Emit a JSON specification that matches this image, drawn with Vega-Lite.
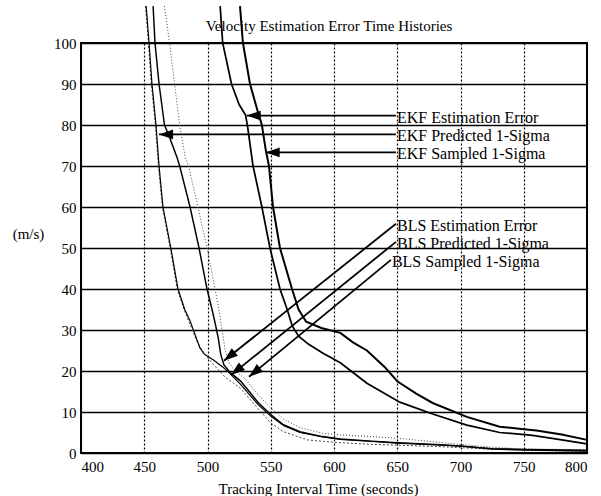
{
  "$schema": "https://vega.github.io/schema/vega-lite/v6.json",
  "width": 506,
  "height": 410,
  "autosize": {"type": "none"},
  "padding": {"left": 81, "top": 43, "right": 14, "bottom": 43},
  "background": "white",
  "config": {
    "font": "Liberation Serif",
    "view": {"stroke": "black", "strokeWidth": 2},
    "axis": {
      "labelFont": "Liberation Serif", "labelFontSize": 15, "labelColor": "black",
      "titleFont": "Liberation Serif", "titleFontSize": 15, "titleFontWeight": "normal", "titleColor": "black",
      "ticks": false, "domain": false, "gridColor": "black", "gridOpacity": 1
    }
  },
  "title": {"text": "Velocity Estimation Error Time Histories", "font": "Liberation Serif", "fontSize": 15, "fontWeight": "normal", "color": "black", "dx": -5, "dy": 43, "offset": 11, "frame": "group"},
  "datasets": {
    "curves": [
      {"series": "EKF Predicted 1-Sigma", "t": 451.5, "v": 109},
      {"series": "EKF Predicted 1-Sigma", "t": 453.8, "v": 100},
      {"series": "EKF Predicted 1-Sigma", "t": 456.1, "v": 90},
      {"series": "EKF Predicted 1-Sigma", "t": 459.3, "v": 80},
      {"series": "EKF Predicted 1-Sigma", "t": 461.7, "v": 70},
      {"series": "EKF Predicted 1-Sigma", "t": 464.8, "v": 60},
      {"series": "EKF Predicted 1-Sigma", "t": 471, "v": 50},
      {"series": "EKF Predicted 1-Sigma", "t": 476.7, "v": 40},
      {"series": "EKF Predicted 1-Sigma", "t": 482, "v": 35},
      {"series": "EKF Predicted 1-Sigma", "t": 486, "v": 32.4},
      {"series": "EKF Predicted 1-Sigma", "t": 494, "v": 25.6},
      {"series": "EKF Predicted 1-Sigma", "t": 497, "v": 24.3},
      {"series": "EKF Predicted 1-Sigma", "t": 500, "v": 23.6},
      {"series": "EKF Predicted 1-Sigma", "t": 505, "v": 22.6},
      {"series": "EKF Predicted 1-Sigma", "t": 512, "v": 21},
      {"series": "EKF Predicted 1-Sigma", "t": 518, "v": 19.3},
      {"series": "EKF Predicted 1-Sigma", "t": 526, "v": 16.8},
      {"series": "EKF Predicted 1-Sigma", "t": 533, "v": 14.3},
      {"series": "EKF Predicted 1-Sigma", "t": 540, "v": 11.8},
      {"series": "EKF Predicted 1-Sigma", "t": 550, "v": 9},
      {"series": "EKF Predicted 1-Sigma", "t": 560, "v": 6.7},
      {"series": "EKF Predicted 1-Sigma", "t": 573, "v": 5},
      {"series": "EKF Predicted 1-Sigma", "t": 591, "v": 3.9},
      {"series": "EKF Predicted 1-Sigma", "t": 605, "v": 3.3},
      {"series": "EKF Predicted 1-Sigma", "t": 630, "v": 2.8},
      {"series": "EKF Predicted 1-Sigma", "t": 650, "v": 2.4},
      {"series": "EKF Predicted 1-Sigma", "t": 680, "v": 2},
      {"series": "EKF Predicted 1-Sigma", "t": 700, "v": 1.7},
      {"series": "EKF Predicted 1-Sigma", "t": 725, "v": 1.1},
      {"series": "EKF Predicted 1-Sigma", "t": 750, "v": 0.9},
      {"series": "EKF Predicted 1-Sigma", "t": 800, "v": 0.7},

      {"series": "BLS Estimation Error", "t": 457, "v": 109},
      {"series": "BLS Estimation Error", "t": 458.5, "v": 100},
      {"series": "BLS Estimation Error", "t": 461.7, "v": 90},
      {"series": "BLS Estimation Error", "t": 466, "v": 80},
      {"series": "BLS Estimation Error", "t": 470, "v": 77},
      {"series": "BLS Estimation Error", "t": 476, "v": 72},
      {"series": "BLS Estimation Error", "t": 478, "v": 70},
      {"series": "BLS Estimation Error", "t": 486.2, "v": 60},
      {"series": "BLS Estimation Error", "t": 493.3, "v": 50},
      {"series": "BLS Estimation Error", "t": 499.6, "v": 40},
      {"series": "BLS Estimation Error", "t": 503.6, "v": 35},
      {"series": "BLS Estimation Error", "t": 506.5, "v": 31},
      {"series": "BLS Estimation Error", "t": 508.5, "v": 28},
      {"series": "BLS Estimation Error", "t": 510.5, "v": 24},
      {"series": "BLS Estimation Error", "t": 513, "v": 21.5},
      {"series": "BLS Estimation Error", "t": 518, "v": 19.6},
      {"series": "BLS Estimation Error", "t": 526, "v": 17.6},
      {"series": "BLS Estimation Error", "t": 533, "v": 15},
      {"series": "BLS Estimation Error", "t": 540, "v": 12.3},
      {"series": "BLS Estimation Error", "t": 550, "v": 9.4},
      {"series": "BLS Estimation Error", "t": 560, "v": 6.9},
      {"series": "BLS Estimation Error", "t": 573, "v": 5.2},
      {"series": "BLS Estimation Error", "t": 591, "v": 4},
      {"series": "BLS Estimation Error", "t": 605, "v": 3.4},
      {"series": "BLS Estimation Error", "t": 630, "v": 2.9},
      {"series": "BLS Estimation Error", "t": 650, "v": 2.5},
      {"series": "BLS Estimation Error", "t": 680, "v": 2.1},
      {"series": "BLS Estimation Error", "t": 700, "v": 1.7},
      {"series": "BLS Estimation Error", "t": 725, "v": 1},
      {"series": "BLS Estimation Error", "t": 750, "v": 0.7},
      {"series": "BLS Estimation Error", "t": 800, "v": 0.5},

      {"series": "BLS Predicted 1-Sigma", "t": 466, "v": 109},
      {"series": "BLS Predicted 1-Sigma", "t": 470, "v": 100},
      {"series": "BLS Predicted 1-Sigma", "t": 474, "v": 90},
      {"series": "BLS Predicted 1-Sigma", "t": 478, "v": 80},
      {"series": "BLS Predicted 1-Sigma", "t": 482.5, "v": 72},
      {"series": "BLS Predicted 1-Sigma", "t": 485, "v": 70},
      {"series": "BLS Predicted 1-Sigma", "t": 492.5, "v": 60},
      {"series": "BLS Predicted 1-Sigma", "t": 499.6, "v": 50},
      {"series": "BLS Predicted 1-Sigma", "t": 506, "v": 40},
      {"series": "BLS Predicted 1-Sigma", "t": 509, "v": 35},
      {"series": "BLS Predicted 1-Sigma", "t": 511.5, "v": 30},
      {"series": "BLS Predicted 1-Sigma", "t": 514, "v": 25},
      {"series": "BLS Predicted 1-Sigma", "t": 517, "v": 22},
      {"series": "BLS Predicted 1-Sigma", "t": 522, "v": 20},
      {"series": "BLS Predicted 1-Sigma", "t": 530, "v": 18},
      {"series": "BLS Predicted 1-Sigma", "t": 540, "v": 14.2},
      {"series": "BLS Predicted 1-Sigma", "t": 550, "v": 11},
      {"series": "BLS Predicted 1-Sigma", "t": 560, "v": 8.3},
      {"series": "BLS Predicted 1-Sigma", "t": 573, "v": 6.2},
      {"series": "BLS Predicted 1-Sigma", "t": 591, "v": 4.8},
      {"series": "BLS Predicted 1-Sigma", "t": 605, "v": 4.4},
      {"series": "BLS Predicted 1-Sigma", "t": 630, "v": 4},
      {"series": "BLS Predicted 1-Sigma", "t": 650, "v": 3.6},
      {"series": "BLS Predicted 1-Sigma", "t": 680, "v": 2.7},
      {"series": "BLS Predicted 1-Sigma", "t": 700, "v": 2.1},
      {"series": "BLS Predicted 1-Sigma", "t": 725, "v": 1.4},
      {"series": "BLS Predicted 1-Sigma", "t": 750, "v": 1},
      {"series": "BLS Predicted 1-Sigma", "t": 800, "v": 0.8},

      {"series": "BLS Sampled 1-Sigma", "t": 451, "v": 109},
      {"series": "BLS Sampled 1-Sigma", "t": 453.3, "v": 100},
      {"series": "BLS Sampled 1-Sigma", "t": 455.6, "v": 90},
      {"series": "BLS Sampled 1-Sigma", "t": 458.8, "v": 80},
      {"series": "BLS Sampled 1-Sigma", "t": 461.2, "v": 70},
      {"series": "BLS Sampled 1-Sigma", "t": 464.3, "v": 60},
      {"series": "BLS Sampled 1-Sigma", "t": 470.5, "v": 50},
      {"series": "BLS Sampled 1-Sigma", "t": 476, "v": 40},
      {"series": "BLS Sampled 1-Sigma", "t": 481.5, "v": 35},
      {"series": "BLS Sampled 1-Sigma", "t": 486, "v": 31.5},
      {"series": "BLS Sampled 1-Sigma", "t": 492, "v": 27},
      {"series": "BLS Sampled 1-Sigma", "t": 498, "v": 24},
      {"series": "BLS Sampled 1-Sigma", "t": 505, "v": 21.5},
      {"series": "BLS Sampled 1-Sigma", "t": 514, "v": 18.5},
      {"series": "BLS Sampled 1-Sigma", "t": 526, "v": 15.8},
      {"series": "BLS Sampled 1-Sigma", "t": 540, "v": 10.8},
      {"series": "BLS Sampled 1-Sigma", "t": 550, "v": 7.3},
      {"series": "BLS Sampled 1-Sigma", "t": 560, "v": 5.2},
      {"series": "BLS Sampled 1-Sigma", "t": 579, "v": 3.2},
      {"series": "BLS Sampled 1-Sigma", "t": 600, "v": 2.6},
      {"series": "BLS Sampled 1-Sigma", "t": 630, "v": 2.1},
      {"series": "BLS Sampled 1-Sigma", "t": 650, "v": 1.9},
      {"series": "BLS Sampled 1-Sigma", "t": 680, "v": 1.6},
      {"series": "BLS Sampled 1-Sigma", "t": 700, "v": 1.3},
      {"series": "BLS Sampled 1-Sigma", "t": 725, "v": 0.9},
      {"series": "BLS Sampled 1-Sigma", "t": 800, "v": 0.4},

      {"series": "EKF Estimation Error", "t": 510, "v": 109},
      {"series": "EKF Estimation Error", "t": 512, "v": 100},
      {"series": "EKF Estimation Error", "t": 519, "v": 90},
      {"series": "EKF Estimation Error", "t": 525, "v": 85},
      {"series": "EKF Estimation Error", "t": 530, "v": 82.5},
      {"series": "EKF Estimation Error", "t": 531.5, "v": 80},
      {"series": "EKF Estimation Error", "t": 536, "v": 70},
      {"series": "EKF Estimation Error", "t": 543, "v": 60},
      {"series": "EKF Estimation Error", "t": 549.4, "v": 50},
      {"series": "EKF Estimation Error", "t": 557.3, "v": 40},
      {"series": "EKF Estimation Error", "t": 563, "v": 35},
      {"series": "EKF Estimation Error", "t": 567, "v": 31},
      {"series": "EKF Estimation Error", "t": 572, "v": 28.5},
      {"series": "EKF Estimation Error", "t": 580, "v": 26.5},
      {"series": "EKF Estimation Error", "t": 591, "v": 24.4},
      {"series": "EKF Estimation Error", "t": 605, "v": 22},
      {"series": "EKF Estimation Error", "t": 626, "v": 17},
      {"series": "EKF Estimation Error", "t": 652, "v": 12.4},
      {"series": "EKF Estimation Error", "t": 678, "v": 9.5},
      {"series": "EKF Estimation Error", "t": 705, "v": 6.8},
      {"series": "EKF Estimation Error", "t": 731, "v": 5},
      {"series": "EKF Estimation Error", "t": 757, "v": 4.3},
      {"series": "EKF Estimation Error", "t": 780, "v": 3.2},
      {"series": "EKF Estimation Error", "t": 800, "v": 2.2},

      {"series": "EKF Sampled 1-Sigma", "t": 525.7, "v": 109},
      {"series": "EKF Sampled 1-Sigma", "t": 528, "v": 100},
      {"series": "EKF Sampled 1-Sigma", "t": 533.6, "v": 90},
      {"series": "EKF Sampled 1-Sigma", "t": 540, "v": 83},
      {"series": "EKF Sampled 1-Sigma", "t": 543, "v": 80},
      {"series": "EKF Sampled 1-Sigma", "t": 546, "v": 74},
      {"series": "EKF Sampled 1-Sigma", "t": 548.6, "v": 70},
      {"series": "EKF Sampled 1-Sigma", "t": 551.8, "v": 60},
      {"series": "EKF Sampled 1-Sigma", "t": 557.3, "v": 50},
      {"series": "EKF Sampled 1-Sigma", "t": 566.8, "v": 40},
      {"series": "EKF Sampled 1-Sigma", "t": 572, "v": 35},
      {"series": "EKF Sampled 1-Sigma", "t": 578, "v": 32},
      {"series": "EKF Sampled 1-Sigma", "t": 590, "v": 30.5},
      {"series": "EKF Sampled 1-Sigma", "t": 605, "v": 29.3},
      {"series": "EKF Sampled 1-Sigma", "t": 615, "v": 27},
      {"series": "EKF Sampled 1-Sigma", "t": 626, "v": 25},
      {"series": "EKF Sampled 1-Sigma", "t": 640, "v": 21},
      {"series": "EKF Sampled 1-Sigma", "t": 650, "v": 17.5},
      {"series": "EKF Sampled 1-Sigma", "t": 665, "v": 14.5},
      {"series": "EKF Sampled 1-Sigma", "t": 678, "v": 12.2},
      {"series": "EKF Sampled 1-Sigma", "t": 705, "v": 8.8},
      {"series": "EKF Sampled 1-Sigma", "t": 731, "v": 6.4},
      {"series": "EKF Sampled 1-Sigma", "t": 750, "v": 5.8},
      {"series": "EKF Sampled 1-Sigma", "t": 760, "v": 5.5},
      {"series": "EKF Sampled 1-Sigma", "t": 780, "v": 4.5},
      {"series": "EKF Sampled 1-Sigma", "t": 800, "v": 3.2}
    ],
    "arrows": [
      {"label": "EKF Estimation Error", "group": "EKF", "x0": 649, "y0": 82.3, "x1": 531, "y1": 82.3},
      {"label": "EKF Predicted 1-Sigma", "group": "EKF", "x0": 649, "y0": 77.7, "x1": 461.7, "y1": 77.7},
      {"label": "EKF Sampled 1-Sigma", "group": "EKF", "x0": 649, "y0": 73.3, "x1": 546, "y1": 73.3},
      {"label": "BLS Estimation Error", "group": "BLS", "x0": 649, "y0": 55.9, "x1": 513, "y1": 22.5},
      {"label": "BLS Predicted 1-Sigma", "group": "BLS", "x0": 649, "y0": 51.5, "x1": 518.6, "y1": 19.0},
      {"label": "BLS Sampled 1-Sigma", "group": "BLS", "x0": 645, "y0": 47.1, "x1": 532.8, "y1": 18.6}
    ]
  },
  "layer": [
    {
      "data": {"name": "curves"},
      "transform": [{"filter": {"field": "series", "oneOf": ["BLS Predicted 1-Sigma", "BLS Sampled 1-Sigma"]}}],
      "mark": {"type": "line", "strokeWidth": 1, "color": "#444"},
      "encoding": {
        "x": {"field": "t", "type": "quantitative", "title": "Tracking Interval Time (seconds)",
          "scale": {"domain": [400, 800], "nice": false, "zero": false},
          "axis": {"values": [400, 450, 500, 550, 600, 650, 700, 750, 800], "labelPadding": 6, "grid": true, "gridDash": [2, 2], "gridWidth": 1.2,
            "titleX": 237, "titleY": 40, "titleAlign": "center", "titleBaseline": "alphabetic"}},
        "y": {"field": "v", "type": "quantitative", "title": "(m/s)",
          "scale": {"domain": [0, 100], "nice": false},
          "axis": {"values": [0, 10, 20, 30, 40, 50, 60, 70, 80, 90, 100], "labelPadding": 5, "grid": true, "gridWidth": 1.3,
            "titleAngle": 0, "titleX": -53, "titleY": 190, "titleAlign": "center", "titleBaseline": "middle"}},
        "strokeDash": {"field": "series", "type": "nominal", "legend": null,
          "scale": {"domain": ["BLS Predicted 1-Sigma", "BLS Sampled 1-Sigma"], "range": [[1, 2], [2, 2]]}},
        "order": {"field": "t", "type": "quantitative"}
      }
    },
    {
      "data": {"name": "curves"},
      "transform": [{"filter": {"field": "series", "oneOf": ["EKF Predicted 1-Sigma", "BLS Estimation Error", "EKF Estimation Error", "EKF Sampled 1-Sigma"]}}],
      "mark": {"type": "line", "color": "black"},
      "encoding": {
        "x": {"field": "t", "type": "quantitative", "title": "Tracking Interval Time (seconds)"},
        "y": {"field": "v", "type": "quantitative", "title": "(m/s)"},
        "strokeWidth": {"field": "series", "type": "nominal", "legend": null,
          "scale": {"domain": ["EKF Predicted 1-Sigma", "BLS Estimation Error", "EKF Estimation Error", "EKF Sampled 1-Sigma"], "range": [1.2, 2, 1.2, 1.1]}},
        "order": {"field": "t", "type": "quantitative"}
      }
    },
    {
      "data": {"name": "arrows"},
      "mark": {"type": "rule", "color": "black", "strokeWidth": 1.8},
      "encoding": {
        "x": {"field": "x0", "type": "quantitative", "title": "Tracking Interval Time (seconds)"},
        "x2": {"field": "x1"},
        "y": {"field": "y0", "type": "quantitative", "title": "(m/s)"},
        "y2": {"field": "y1"}
      }
    },
    {
      "data": {"name": "arrows"},
      "transform": [{"filter": {"field": "group", "equal": "EKF"}}],
      "mark": {"type": "point", "shape": "M0,0L2,-0.7L2,0.7Z", "size": 196, "filled": true, "color": "black", "opacity": 1, "strokeWidth": 0},
      "encoding": {
        "x": {"field": "x1", "type": "quantitative", "title": "Tracking Interval Time (seconds)"},
        "y": {"field": "y1", "type": "quantitative", "title": "(m/s)"}
      }
    },
    {
      "data": {"name": "arrows"},
      "transform": [{"filter": {"field": "group", "equal": "BLS"}}],
      "mark": {"type": "point", "shape": "M0,0L2,-0.7L2,0.7Z", "size": 196, "filled": true, "color": "black", "opacity": 1, "strokeWidth": 0, "angle": 321},
      "encoding": {
        "x": {"field": "x1", "type": "quantitative", "title": "Tracking Interval Time (seconds)"},
        "y": {"field": "y1", "type": "quantitative", "title": "(m/s)"}
      }
    },
    {
      "data": {"name": "arrows"},
      "mark": {"type": "text", "align": "left", "baseline": "middle", "dx": 1, "dy": 2, "font": "Liberation Serif", "fontSize": 16, "color": "black"},
      "encoding": {
        "x": {"field": "x0", "type": "quantitative", "title": "Tracking Interval Time (seconds)"},
        "y": {"field": "y0", "type": "quantitative", "title": "(m/s)"},
        "text": {"field": "label"}
      }
    }
  ]
}
